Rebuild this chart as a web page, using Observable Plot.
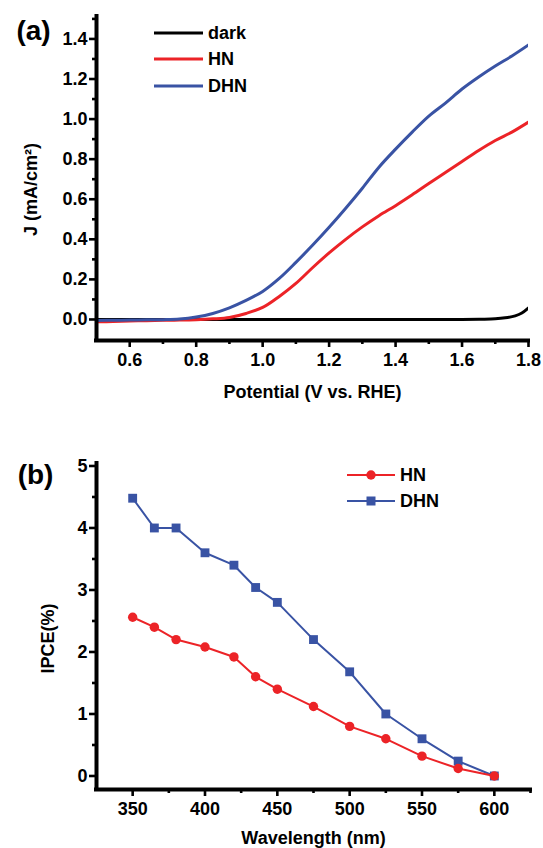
<!DOCTYPE html>
<html><head><meta charset="utf-8">
<script src="https://cdn.jsdelivr.net/npm/d3@7"></script>
<script src="https://cdn.jsdelivr.net/npm/@observablehq/plot@0.6"></script>
<style>
html,body{margin:0;padding:0;background:#fff;}
#wrap{position:relative;width:543px;height:848px;overflow:hidden;background:#fff;}
#wrap svg{position:absolute;left:0;}
</style></head><body><div id="wrap"></div>
<script>
// ---------- Panel (a): J-V curves ----------
const potential = [0.50,0.55,0.60,0.65,0.70,0.75,0.80,0.85,0.90,0.95,1.00,1.05,1.10,1.15,1.20,1.25,1.30,1.35,1.40,1.45,1.50,1.55,1.60,1.65,1.70,1.75,1.80];
const jHN  = [-0.012,-0.010,-0.008,-0.006,-0.004,-0.003,-0.001,0.003,0.010,0.030,0.060,0.115,0.180,0.258,0.332,0.400,0.462,0.518,0.568,0.622,0.678,0.733,0.788,0.843,0.893,0.935,0.985];
const jDHN = [-0.005,-0.004,-0.003,-0.002,-0.001,0.002,0.012,0.030,0.058,0.095,0.140,0.205,0.285,0.370,0.460,0.555,0.655,0.760,0.850,0.935,1.015,1.080,1.150,1.210,1.265,1.315,1.370];
const darkV = [0.50,0.80,1.10,1.40,1.60,1.66,1.70,1.73,1.76,1.78,1.80];
const jDark = [0.000,0.000,0.000,0.000,0.000,0.001,0.003,0.008,0.018,0.032,0.058];
const seriesA = ["dark","HN","DHN"];
const xTicksA = [0.6,0.8,1.0,1.2,1.4,1.6,1.8];
const xMinorA = [0.7,0.9,1.1,1.3,1.5,1.7];
const yTicksA = [0.0,0.2,0.4,0.6,0.8,1.0,1.2,1.4];
const yMinorA = [0.1,0.3,0.5,0.7,0.9,1.1,1.3,1.5];

// ---------- Panel (b): IPCE ----------
const wavelength = [350,365,380,400,420,435,450,475,500,525,550,575,600];
const ipceHN  = [2.56,2.40,2.20,2.08,1.92,1.60,1.40,1.12,0.80,0.60,0.32,0.12,0.00];
const ipceDHN = [4.48,4.00,4.00,3.60,3.40,3.04,2.80,2.20,1.68,1.00,0.60,0.24,0.00];
const xTicksB = [350,400,450,500,550,600];
const xMinorB = [375,425,475,525,575,625];
const yTicksB = [0,1,2,3,4,5];
const yMinorB = [0.5,1.5,2.5,3.5,4.5];

const RED = "#ec2327", BLUE = "#3953a4", BLACK = "#000";
const FONT = "'Liberation Sans', Arial, Helvetica, sans-serif";
const style = {fontFamily: FONT, fontSize: "18px", fontWeight: "bold", color: "#000", background: "transparent", overflow: "visible"};

const rowsA = [];
darkV.forEach((v,i)=>rowsA.push({s:"dark", v, j:jDark[i]}));
potential.forEach((v,i)=>rowsA.push({s:"HN", v, j:jHN[i]}));
potential.forEach((v,i)=>rowsA.push({s:"DHN", v, j:jDHN[i]}));
const colA = {dark: BLACK, HN: RED, DHN: BLUE};

const f1 = d3.format(".1f");
const xA = [0.5, 1.8], yA = [-0.105, 1.512];
const topPlot = Plot.plot({
  width: 543, height: 420,
  marginLeft: 96, marginRight: 15, marginTop: 16, marginBottom: 80,
  style,
  x: {domain: xA},
  y: {domain: yA},
  marks: [
    Plot.axisY({ticks: yTicksA, tickSize: 7, tickPadding: 2, stroke: "#000", strokeWidth: 2.6, tickFormat: f1, label: null, fontSize: 18}),
    Plot.axisY({ticks: yMinorA, tickSize: 4, stroke: "#000", strokeWidth: 2.6, tickFormat: () => "", label: null}),
    Plot.axisX({ticks: xTicksA, tickSize: 7, tickPadding: 6, stroke: "#000", strokeWidth: 2.6, tickFormat: f1, label: null, fontSize: 18}),
    Plot.axisX({ticks: xMinorA, tickSize: 4, stroke: "#000", strokeWidth: 2.6, tickFormat: () => "", label: null}),
    ...seriesA.map(s => Plot.line(rowsA.filter(d=>d.s===s), {x:"v", y:"j", stroke: colA[s], strokeWidth: 3, curve: "catmull-rom", clip: true})),
    Plot.ruleX([xA[0]], {stroke: "#000", strokeWidth: 4, strokeLinecap: "square"}),
    Plot.ruleY([yA[0]], {stroke: "#000", strokeWidth: 4, strokeLinecap: "square"}),
    Plot.text(["J (mA/cm²)"], {frameAnchor: "left", dx: -65, dy: 11, rotate: -90, textAnchor: "middle", lineAnchor: "middle", fontSize: 18, fontWeight: "bold"}),
    Plot.text(["Potential (V vs. RHE)"], {frameAnchor: "bottom", dy: 52, textAnchor: "middle", lineAnchor: "middle", fontSize: 18, fontWeight: "bold"}),
    Plot.text(["(a)"], {frameAnchor: "top-left", dx: -63, dy: 15, textAnchor: "middle", lineAnchor: "middle", fontSize: 28, fontWeight: "bold"})
  ]
});
topPlot.style.top = "0px";

// legend (a)
{
  const g = d3.select(topPlot).append("g");
  const ys = [33, 59, 86];
  seriesA.forEach((s,i) => {
    g.append("line").attr("x1",154).attr("x2",203).attr("y1",ys[i]).attr("y2",ys[i])
      .attr("stroke", colA[s]).attr("stroke-width",3.2);
    g.append("text").attr("x",208).attr("y",ys[i]).attr("dy","0.35em").attr("text-anchor","start")
      .attr("font-size",18).attr("font-weight","bold").attr("font-family",FONT).attr("fill","#000").text(s);
  });
}

const rowsB = [];
wavelength.forEach((w,i)=>rowsB.push({s:"DHN", w, v:ipceDHN[i]}));
wavelength.forEach((w,i)=>rowsB.push({s:"HN", w, v:ipceHN[i]}));
const dhnB = rowsB.filter(d=>d.s==="DHN"), hnB = rowsB.filter(d=>d.s==="HN");

const xB = [325, 625], yB = [-0.218, 5.04];
const botPlot = Plot.plot({
  width: 543, height: 428,
  marginLeft: 96, marginRight: 13, marginTop: 43, marginBottom: 59,
  style,
  x: {domain: xB},
  y: {domain: yB},
  marks: [
    Plot.axisY({ticks: yTicksB, tickSize: 7, tickPadding: 2, stroke: "#000", strokeWidth: 2.6, tickFormat: d3.format("d"), label: null, fontSize: 18}),
    Plot.axisY({ticks: yMinorB, tickSize: 4, stroke: "#000", strokeWidth: 2.6, tickFormat: () => "", label: null}),
    Plot.axisX({ticks: xTicksB, tickSize: 7, tickPadding: 6, stroke: "#000", strokeWidth: 2.6, tickFormat: d3.format("d"), label: null, fontSize: 18}),
    Plot.axisX({ticks: xMinorB, tickSize: 4, stroke: "#000", strokeWidth: 2.6, tickFormat: () => "", label: null}),
    Plot.line(dhnB, {x:"w", y:"v", stroke: BLUE, strokeWidth: 2}),
    Plot.dot(dhnB, {x:"w", y:"v", symbol: "square", r: 5, fill: BLUE}),
    Plot.line(hnB, {x:"w", y:"v", stroke: RED, strokeWidth: 2}),
    Plot.dot(hnB, {x:"w", y:"v", symbol: "circle", r: 4.7, fill: RED}),
    Plot.ruleX([xB[0]], {stroke: "#000", strokeWidth: 4, strokeLinecap: "square"}),
    Plot.ruleY([yB[0]], {stroke: "#000", strokeWidth: 4, strokeLinecap: "square"}),
    Plot.text(["IPCE(%)"], {frameAnchor: "left", dx: -48, dy: 12, rotate: -90, textAnchor: "middle", lineAnchor: "middle", fontSize: 18, fontWeight: "bold"}),
    Plot.text(["Wavelength (nm)"], {frameAnchor: "bottom", dy: 49, textAnchor: "middle", lineAnchor: "middle", fontSize: 18, fontWeight: "bold"}),
    Plot.text(["(b)"], {frameAnchor: "top-left", dx: -61, dy: 12, textAnchor: "middle", lineAnchor: "middle", fontSize: 28, fontWeight: "bold"})
  ]
});
botPlot.style.top = "420px";

// legend (b)
{
  const g = d3.select(botPlot).append("g");
  const items = [{s:"HN", c:RED, y:55}, {s:"DHN", c:BLUE, y:81}];
  items.forEach(it => {
    g.append("line").attr("x1",347).attr("x2",395).attr("y1",it.y).attr("y2",it.y)
      .attr("stroke", it.c).attr("stroke-width",2);
    if (it.s === "HN") g.append("circle").attr("cx",371).attr("cy",it.y).attr("r",4.7).attr("fill",it.c);
    else g.append("rect").attr("x",371-4.5).attr("y",it.y-4.5).attr("width",9).attr("height",9).attr("fill",it.c);
    g.append("text").attr("x",400).attr("y",it.y).attr("dy","0.35em").attr("text-anchor","start")
      .attr("font-size",18).attr("font-weight","bold").attr("font-family",FONT).attr("fill","#000").text(it.s);
  });
}

const wrap = document.getElementById("wrap");
wrap.appendChild(topPlot);
wrap.appendChild(botPlot);
</script></body></html>
